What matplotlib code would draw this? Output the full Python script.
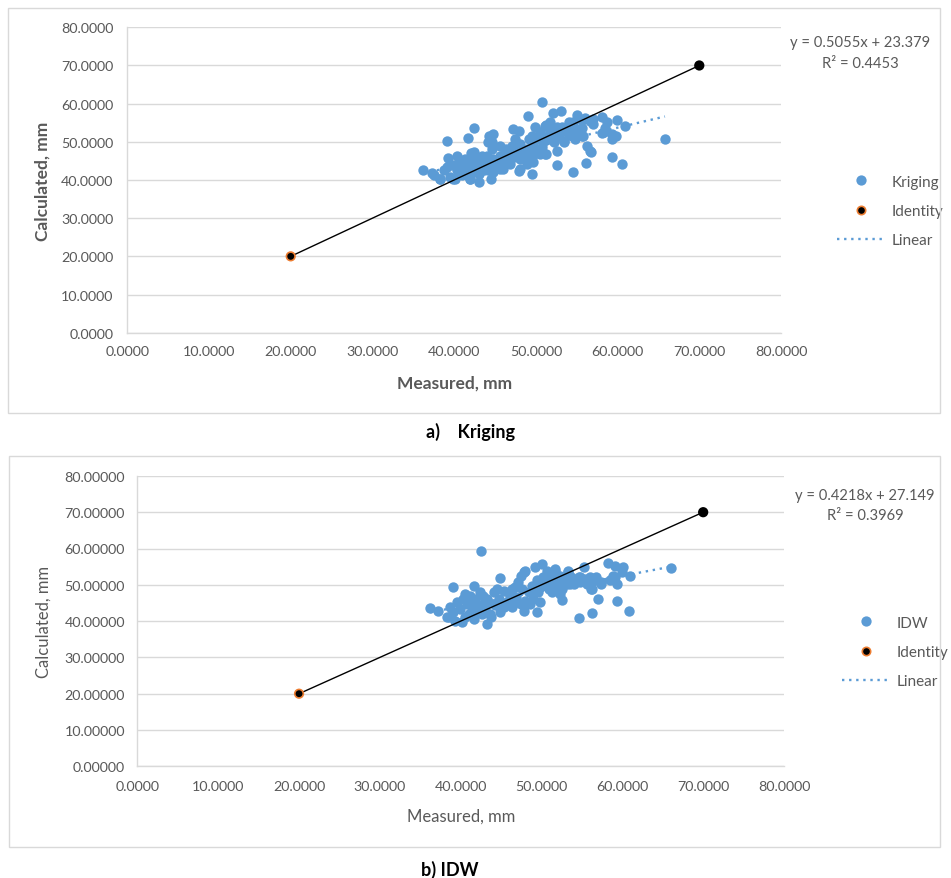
import numpy as np
import matplotlib.pyplot as plt
from matplotlib.patches import Rectangle
from matplotlib.lines import Line2D
from matplotlib.ticker import FormatStrFormatter

plt.rcParams['font.family'] = ['Lato', 'DejaVu Sans']

# --- data (measured, calculated) ---
krig_points = [
    (36.2, 42.7), (37.3, 41.8), (39.1, 50.3), (39.3, 45.8), (40.4, 46.4), (41.7, 51.0),
    (42.4, 53.5), (43.0, 39.4), (44.5, 40.3), (44.2, 50.0), (44.8, 52.1), (47.2, 53.4),
    (47.9, 52.9), (49.0, 56.7), (49.9, 53.9), (50.8, 60.4), (47.9, 42.4), (49.5, 41.6),
    (52.6, 43.8), (54.5, 42.0), (52.1, 57.6), (53.1, 58.2), (53.4, 49.9), (52.6, 47.7),
    (55.0, 57.1), (54.6, 55.1), (56.0, 56.2), (56.1, 44.5), (56.8, 47.3), (56.2, 49.0),
    (55.7, 53.5), (57.0, 56.0), (58.1, 56.4), (58.7, 55.1), (58.3, 52.5), (59.3, 50.7),
    (59.8, 51.6), (59.3, 46.0), (59.9, 55.7), (60.9, 54.2), (60.6, 44.1), (65.8, 50.7),
    (53.4, 53.4), (55.6, 51.6),
    (37.5, 41.2), (38.3, 40.3), (39.5, 40.7), (40.1, 40.3), (40.7, 42.0), (41.1, 42.9),
    (41.5, 43.8), (42.0, 40.3), (42.2, 44.7), (42.4, 47.3), (42.8, 45.5), (43.2, 44.2),
    (43.4, 46.4), (43.6, 42.5), (44.0, 43.8), (44.6, 48.1), (44.8, 45.5), (45.2, 44.2),
    (45.6, 46.4), (46.0, 42.9), (46.4, 48.1), (46.8, 45.5), (47.3, 46.8), (47.5, 50.8),
    (47.7, 48.1), (48.1, 49.5), (48.5, 47.3), (48.9, 48.1), (49.1, 50.8), (49.5, 51.6),
    (49.7, 49.0), (50.1, 50.8), (50.3, 47.3), (50.5, 52.5), (50.9, 49.9), (51.3, 54.3),
    (51.5, 51.6), (51.7, 55.1), (51.9, 50.8), (52.2, 49.9), (52.4, 52.5), (52.8, 51.6),
    (53.2, 53.8), (53.8, 52.5), (54.0, 55.1), (54.4, 51.6), (54.8, 50.8), (55.4, 53.4),
    (55.6, 55.6), (54.6, 54.3), (49.7, 44.7), (48.9, 44.2), (48.1, 42.9), (46.8, 44.2),
    (44.8, 42.0), (45.6, 42.9), (42.8, 42.5), (41.5, 41.6), (40.5, 43.3), (39.9, 43.8),
    (39.1, 43.3), (38.7, 42.5), (41.3, 45.5), (40.7, 44.7), (44.0, 46.4), (44.6, 49.9),
    (45.6, 49.0), (46.2, 47.7), (47.3, 46.0), (48.1, 45.5), (50.5, 46.8), (51.1, 46.8),
    (49.7, 46.6), (40.3, 42.5), (40.9, 41.2), (41.7, 42.5), (42.6, 43.3), (43.0, 41.6),
    (43.8, 44.7), (44.2, 42.5), (45.0, 43.3), (45.4, 45.5), (45.8, 44.7), (46.6, 46.8),
    (47.1, 49.0), (47.9, 46.4), (48.3, 47.7), (48.7, 46.0), (49.3, 47.3), (49.9, 47.7),
    (50.7, 48.6), (51.3, 50.8), (52.6, 53.8), (54.2, 53.4), (55.0, 52.5), (42.8, 43.8),
    (42.2, 42.0), (43.4, 43.3), (57.0, 54.6), (58.1, 52.4), (58.5, 53.7), (56.6, 55.5),
    (55.8, 51.5), (56.6, 47.6), (53.4, 50.2), (54.2, 52.0), (51.3, 51.1), (51.7, 52.8),
    (51.1, 54.2), (51.3, 46.7), (59.3, 52.0), (38.3, 40.2), (39.9, 40.2), (41.9, 40.2),
    (42.1, 47.2), (44.3, 51.5),
]

idw_points = [
    (42.5, 59.4), (36.2, 43.5), (37.2, 42.9), (39.1, 49.5), (40.5, 47.5), (41.7, 49.6),
    (43.2, 39.2), (44.9, 51.9), (49.2, 54.8), (50.0, 55.7), (49.4, 42.4), (47.8, 42.9),
    (52.5, 45.8), (54.6, 40.9), (55.3, 54.8), (56.2, 42.2), (57.0, 46.1), (58.2, 56.0),
    (59.1, 55.1), (60.1, 54.8), (61.0, 52.5), (59.3, 45.6), (60.8, 42.7), (66.0, 54.5),
    (56.1, 48.9), (57.3, 50.2), (58.5, 51.2), (59.3, 50.2), (58.9, 52.5), (56.0, 52.1),
    (56.8, 52.1), (54.8, 52.1), (53.3, 53.9), (51.7, 54.4), (50.7, 53.9), (48.0, 53.9),
    (47.4, 52.5), (46.7, 49.3), (46.3, 48.9), (52.1, 51.6), (52.5, 48.9), (51.3, 47.9),
    (38.3, 41.1), (39.3, 40.1), (40.1, 39.7), (38.7, 43.8), (39.5, 45.2), (39.9, 43.3),
    (40.8, 44.7), (41.0, 42.0), (41.4, 43.8), (41.8, 46.1), (42.0, 42.4), (42.4, 44.3),
    (42.8, 47.0), (43.0, 43.3), (43.4, 45.2), (43.6, 42.0), (44.1, 47.9), (44.3, 44.3),
    (44.7, 46.1), (44.9, 42.4), (45.3, 43.8), (45.7, 45.2), (46.1, 47.0), (46.5, 44.7),
    (46.9, 46.6), (47.1, 50.7), (47.6, 48.9), (48.0, 45.6), (48.4, 47.9), (48.8, 49.8),
    (49.0, 46.1), (49.4, 51.2), (49.6, 47.9), (50.0, 49.8), (50.2, 52.1), (50.7, 50.7),
    (50.9, 48.9), (51.3, 52.5), (51.5, 50.2), (51.9, 49.3), (52.3, 52.5), (52.7, 51.2),
    (53.1, 50.2), (53.7, 52.1), (54.0, 50.2), (54.4, 51.6), (55.4, 51.6), (55.6, 50.2),
    (42.6, 42.0), (43.8, 41.1), (40.5, 41.1), (41.6, 40.6), (46.3, 43.8), (47.4, 44.7),
    (48.6, 44.7), (49.8, 45.2), (44.5, 48.9), (42.4, 47.9), (45.3, 48.4), (40.3, 46.1),
    (39.1, 42.4), (41.2, 47.0), (43.2, 46.1), (53.5, 50.2), (54.6, 52.1), (56.2, 50.7),
    (57.3, 50.7), (59.1, 52.1), (60.0, 53.4), (56.2, 48.8), (54.8, 50.7), (52.3, 47.5),
    (51.3, 50.7), (50.9, 52.5), (52.1, 52.1), (53.3, 53.6), (51.7, 53.9), (47.8, 53.6),
    (38.5, 41.0),
]

identity_x = [20.0, 70.0]
identity_y = [20.0, 70.0]

krig_fit = (0.5055, 23.379, 0.4453)
idw_fit = (0.4218, 27.149, 0.3969)

ticks = np.arange(0, 81, 10)

BLUE = "#5B9BD5"
ORANGE = "#ED7D31"
GREY = "#595959"
GRID = "#D9D9D9"

W, H = 951, 879
fig = plt.figure(figsize=(W / 100, H / 100), dpi=100)


def fx(px):
    return px / W


def fy(py):
    return 1 - py / H


def panel(box, area, pts, fit, name, yfmt, bold, eq_xy, leg_xy, xlab_y, ylab_x, caption, cap_xy, pads,
          lab_size):
    # outer chart frame
    l, t, r, b = box
    fig.add_artist(Rectangle((fx(l), fy(b)), fx(r - l), (b - t) / H, transform=fig.transFigure,
                             fill=False, edgecolor=GRID, lw=1))
    l, t, r, b = area
    ax = fig.add_axes([fx(l), fy(b), fx(r - l), (b - t) / H])
    pts = np.array(pts)
    slope, intercept, r2 = fit

    ax.scatter(pts[:, 0], pts[:, 1], s=56, color=BLUE, linewidths=0, zorder=3)
    xs = np.array([pts[:, 0].min(), pts[:, 0].max()])
    ax.plot(xs, slope * xs + intercept, color=BLUE, lw=1.7, ls=(0, (1, 2)), zorder=3.5)
    ax.plot(identity_x, identity_y, color="black", lw=1, zorder=4)
    ax.scatter(identity_x, identity_y, s=38, color="black", edgecolors=[ORANGE, "black"],
               linewidths=1.2, zorder=5)

    ax.set_xlim(0, 80)
    ax.set_ylim(0, 80)
    ax.set_xticks(ticks)
    ax.set_yticks(ticks)
    ax.xaxis.set_major_formatter(FormatStrFormatter("%.4f"))
    ax.yaxis.set_major_formatter(FormatStrFormatter(yfmt))
    ax.tick_params(length=0, labelsize=10.3, labelcolor=GREY)
    ax.tick_params(axis="x", pad=pads[0])
    ax.tick_params(axis="y", pad=pads[1])
    ax.grid(axis="y", color=GRID, lw=1)
    ax.set_axisbelow(True)
    for side in ["top", "right"]:
        ax.spines[side].set_visible(False)
    for side in ["left", "bottom"]:
        ax.spines[side].set_color(GRID)
        ax.spines[side].set_linewidth(1)

    weight = "bold" if bold else "normal"
    fig.text(fx((l + r) / 2), fy(xlab_y), "Measured, mm", ha="center", va="center",
             fontsize=lab_size, color=GREY, fontweight=weight)
    fig.text(fx(ylab_x), fy((t + b) / 2), "Calculated, mm", ha="center", va="center",
             rotation=90, fontsize=lab_size, color=GREY, fontweight=weight)

    fig.text(fx(eq_xy[0]), fy(eq_xy[1]), f"y = {slope:.4f}x + {intercept:.3f}", ha="center",
             va="center", fontsize=10.6, color=GREY)
    fig.text(fx(eq_xy[0]), fy(eq_xy[1] + 20), f"R² = {r2:.4f}", ha="center", va="center",
             fontsize=10.6, color=GREY)

    handles = [
        Line2D([], [], ls="none", marker="o", color=BLUE, ms=7.4, mew=0),
        Line2D([], [], ls="none", marker="o", mfc="black", mec=ORANGE, ms=6, mew=1.2),
        Line2D([], [], color=BLUE, lw=1.7, ls=(0, (1, 2))),
    ]
    ax.legend(handles, [name, "Identity", "Linear"], loc="center left",
              bbox_to_anchor=(fx(leg_xy[0]), fy(leg_xy[1])), bbox_transform=fig.transFigure,
              frameon=False, fontsize=11, labelcolor=GREY, handlelength=3.15,
              handletextpad=0.4, labelspacing=1.0, borderpad=0, borderaxespad=0)

    fig.text(fx(cap_xy[0]), fy(cap_xy[1]), caption, ha="center", va="center",
             fontsize=13, fontweight="bold", color="black")
    return ax


panel((7.5, 9, 940, 414), (127.3, 28.3, 781, 333.7), krig_points, krig_fit, "Kriging", "%.4f", True,
      (860, 43.5), (837, 212), 384, 43, "a)    Kriging", (470, 432), (9, 10), 12.5)
panel((9, 457, 940, 848), (137.4, 476.9, 784, 767.3), idw_points, idw_fit, "IDW", "%.5f", False,
      (865, 496.5), (842, 653), 817, 43.5, "b) IDW", (450, 870), (10, 9), 12)

fig.savefig("out.png", dpi=100)
